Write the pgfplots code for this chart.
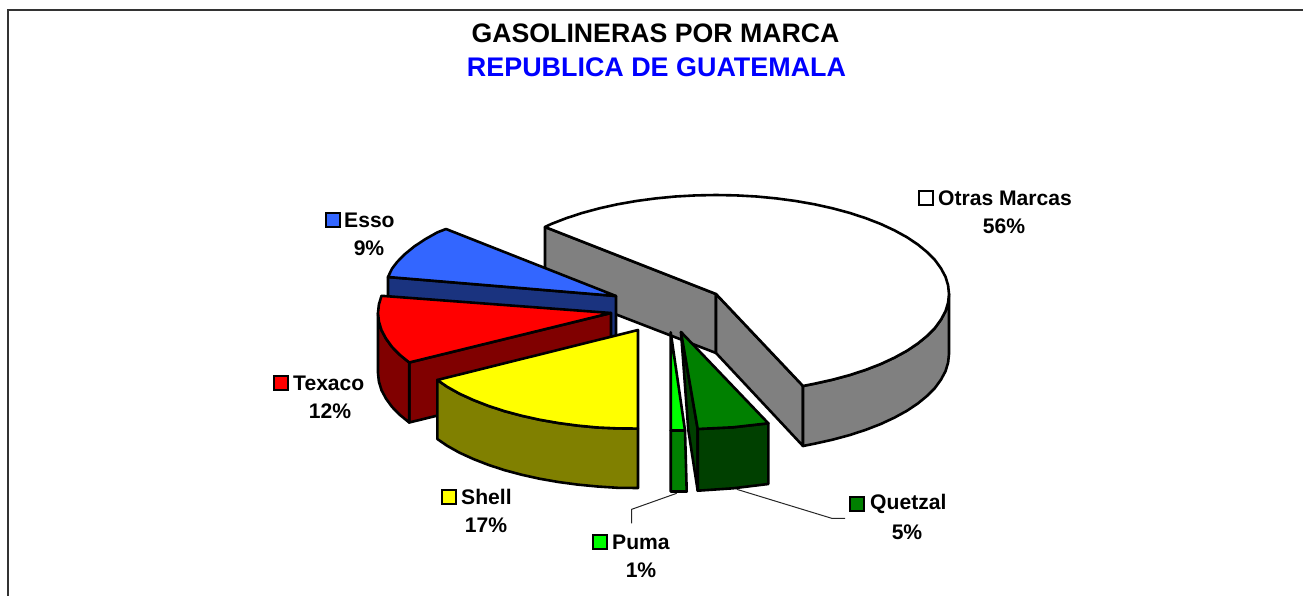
\documentclass[border=0pt]{standalone}
\usepackage{pgfplots}
\pgfplotsset{compat=1.18}
\usepackage{fontspec}
\setmainfont{Liberation Sans}
\definecolor{cGrey}{HTML}{808080}
\definecolor{cBlue}{HTML}{3366FF}
\definecolor{cBlueD}{HTML}{1A337F}
\definecolor{cRed}{HTML}{FF0000}
\definecolor{cRedD}{HTML}{800000}
\definecolor{cYel}{HTML}{FFFF00}
\definecolor{cYelD}{HTML}{808000}
\definecolor{cLime}{HTML}{00FF00}
\definecolor{cGreen}{HTML}{008000}
\definecolor{cGreenD}{HTML}{004000}
\tikzset{
  slice/.style={draw=black,line width=2.6pt,line join=round},
  key/.style={draw=black,line width=2.2pt,line join=miter},
  lead/.style={draw=black!85,line width=1pt},
  lab/.style={font=\fontsize{21.1}{25}\selectfont\bfseries,inner sep=0pt},
}
\begin{document}
\begin{tikzpicture}[x=1pt,y=1pt]
\path[use as bounding box] (0,0) rectangle (1303,596);
\begin{axis}[
  at={(0pt,0pt)},anchor=south west,
  scale only axis,width=1303pt,height=596pt,
  xmin=0,xmax=1303,ymin=0,ymax=596,y dir=reverse,
  axis lines=none,clip=false,
]
% frame
\addplot[draw=black!80,line width=1.6pt] coordinates {(8,596)(8,10)(1303,10)};
% Otras Marcas
\addplot[slice,fill=cGrey] coordinates {(545,227)(716,294)(716,353)(545,287)} --cycle;
\addplot[slice,fill=cGrey] coordinates {(716,294)(803,386)(803,446)(716,353)} --cycle;
\addplot[slice,fill=cGrey] coordinates {(949,294)(948.1,302.6)(945.5,311.2)(941,319.6)(935,327.9)(927.2,335.8)(917.8,343.5)(906.9,350.8)(894.5,357.6)(880.8,364)(865.8,369.8)(849.6,375.1)(832.5,379.7)(814.5,383.7)(803,386)(803,446)(814.5,443.7)(832.5,439.7)(849.6,435.1)(865.8,429.8)(880.8,424)(894.5,417.6)(906.9,410.8)(917.8,403.5)(927.2,395.8)(935,387.9)(941,379.6)(945.5,371.2)(948.1,362.6)(949,354)} --cycle;
\addplot[slice,fill=white] coordinates {(716,294)(545,227)(551.2,224)(566.2,218.2)(582.4,212.9)(599.5,208.3)(617.5,204.3)(636.3,201)(655.7,198.4)(675.5,196.5)(695.7,195.4)(716,195)(736.3,195.4)(756.5,196.5)(776.3,198.4)(795.7,201)(814.5,204.3)(832.5,208.3)(849.6,212.9)(865.8,218.2)(880.8,224)(894.5,230.4)(906.9,237.2)(917.8,244.5)(927.2,252.2)(935,260.1)(941,268.4)(945.5,276.8)(948.1,285.4)(949,294)(948.1,302.6)(945.5,311.2)(941,319.6)(935,327.9)(927.2,335.8)(917.8,343.5)(906.9,350.8)(894.5,357.6)(880.8,364)(865.8,369.8)(849.6,375.1)(832.5,379.7)(814.5,383.7)(803,386)} --cycle;
% Esso
\addplot[slice,fill=cBlueD] coordinates {(388,277)(616,296)(616,356)(388,337)} --cycle;
\addplot[slice,fill=cBlue] coordinates {(616,296)(446,229)(437.5,232.3)(425.2,239.2)(414.2,246.5)(404.9,254.1)(397,262.1)(392,268.7)(388,277)} --cycle;
% Texaco
\addplot[slice,fill=cRedD] coordinates {(611,313)(409.2,362.5)(409.2,422.5)(611,373)} --cycle;
\addplot[slice,fill=cRedD] coordinates {(378,313)(378.9,321.6)(381.5,330.2)(386,338.6)(392,346.9)(399.9,354.9)(409.2,362.5)(409.2,422.5)(399.9,414.9)(392,406.9)(386,398.6)(381.5,390.2)(378.9,381.6)(378,373)} --cycle;
\addplot[slice,fill=cRed] coordinates {(611,313)(381.5,295.8)(378.9,304.4)(378,313)(378.9,321.6)(381.5,330.2)(386,338.6)(392,346.9)(399.9,354.9)(409.2,362.5)} --cycle;
% Shell
\addplot[slice,fill=cYelD] coordinates {(437.3,380)(447.2,386.8)(459.5,393.7)(473.3,400)(488.2,405.8)(504.3,411.1)(521.5,415.7)(539.4,419.7)(558.3,423)(577.7,425.6)(597.5,427.5)(617.7,428.4)(638,428.6)(638,488)(617.7,487.8)(597.5,486.5)(577.7,484.6)(558.3,482)(539.4,478.7)(521.5,474.7)(504.3,470.1)(488.2,464.8)(473.3,459)(459.5,452.7)(447.2,445.8)(437.3,439)} --cycle;
\addplot[slice,fill=cYel] coordinates {(638,330)(437.3,380)(447.2,386.8)(459.5,393.7)(473.3,400)(488.2,405.8)(504.3,411.1)(521.5,415.7)(539.4,419.7)(558.3,423)(577.7,425.6)(597.5,427.5)(617.7,428.4)(638,428.6)} --cycle;
% Quetzal
\addplot[slice,fill=cGreenD] coordinates {(681,332)(697.7,429)(697.7,490.7)(688.3,430)} --cycle;
\addplot[slice,fill=cGreenD] coordinates {(697.7,429)(733,427.3)(768.3,423.3)(768.3,484)(733,488.3)(697.7,490.7)} --cycle;
\addplot[slice,fill=cGreen] coordinates {(681,332)(768.3,423.3)(733,427.3)(697.7,429)} --cycle;
% Puma
\addplot[slice,fill=cGreen] coordinates {(670.7,430.5)(685,430.5)(686.7,491.5)(670.7,491.5)} --cycle;
\addplot[slice,fill=cLime] coordinates {(670.7,332.3)(685,430.5)(670.7,430.5)} --cycle;
% leader lines
\addplot[lead] coordinates {(676.7,493.3)(631.7,509.3)(631.7,523.3)};
\addplot[lead] coordinates {(736.7,489.3)(831.7,518.3)(845,518.3)};
% legend keys
\addplot[key,fill=white] coordinates {(919,191)(933,191)(933,205)(919,205)} --cycle;
\addplot[key,fill=cBlue] coordinates {(326,213)(340,213)(340,227)(326,227)} --cycle;
\addplot[key,fill=cRed] coordinates {(274,376)(288,376)(288,390)(274,390)} --cycle;
\addplot[key,fill=cYel] coordinates {(442,490)(456,490)(456,504)(442,504)} --cycle;
\addplot[key,fill=cLime] coordinates {(593,535)(607,535)(607,549)(593,549)} --cycle;
\addplot[key,fill=cGreen] coordinates {(850,497)(864,497)(864,511)(850,511)} --cycle;
% text
\node[inner sep=0pt,font=\fontsize{26.7}{30}\selectfont\bfseries] at (axis cs:655.5,33) {GASOLINERAS POR MARCA};
\node[inner sep=0pt,font=\fontsize{26.9}{30}\selectfont\bfseries,text=blue] at (axis cs:656.5,67) {REPUBLICA DE GUATEMALA};
\node[lab,anchor=west] at (axis cs:938,198) {Otras Marcas};
\node[lab] at (axis cs:1004,226) {56\%};
\node[lab,anchor=west] at (axis cs:344,220) {Esso};
\node[lab] at (axis cs:369,248) {9\%};
\node[lab,anchor=west] at (axis cs:293,383) {Texaco};
\node[lab] at (axis cs:330,411) {12\%};
\node[lab,anchor=west] at (axis cs:461,497) {Shell};
\node[lab] at (axis cs:486,525) {17\%};
\node[lab,anchor=west] at (axis cs:612,542) {Puma};
\node[lab] at (axis cs:641,570) {1\%};
\node[lab,anchor=west] at (axis cs:870,504) {Quetzal};
\node[lab] at (axis cs:907,532) {5\%};
\end{axis}
\end{tikzpicture}
\end{document}
